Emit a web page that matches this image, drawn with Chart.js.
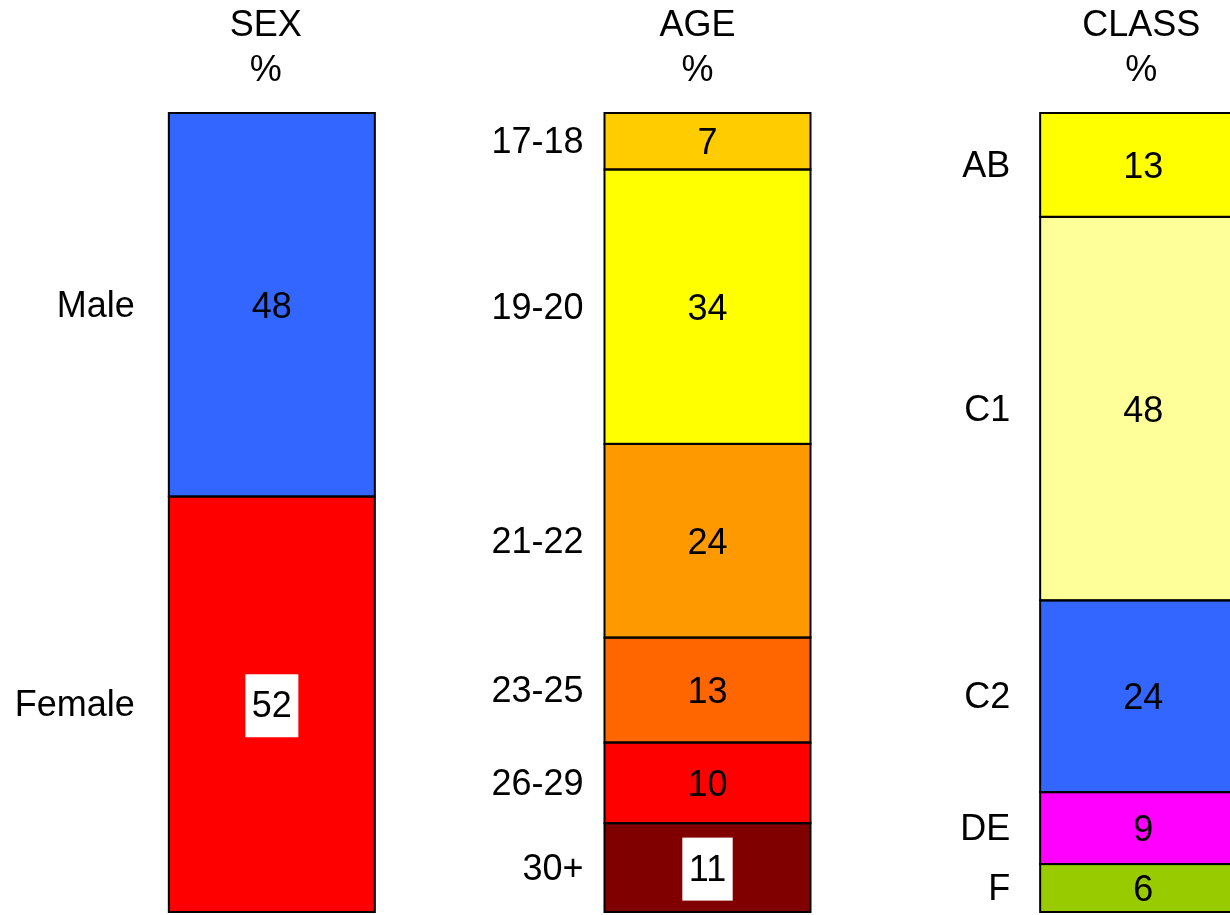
<!DOCTYPE html>
<html>
<head>
<meta charset="utf-8">
<script src="https://cdn.jsdelivr.net/npm/chart.js@4"></script>
<style>
  html, body { margin: 0; padding: 0; background: #fff; overflow: hidden; }
  #wrap { width: 1361px; height: 915px; }
</style>
</head>
<body>
<div id="wrap"><canvas id="profileChart"></canvas></div>
<script>
// Data (top to bottom in each bar)
const groupTitles = ['SEX', 'AGE', 'CLASS'];

const sexLabels = ['Male', 'Female'];
const sexValues = [48, 52];

const ageLabels = ['17-18', '19-20', '21-22', '23-25', '26-29', '30+'];
const ageValues = [7, 34, 24, 13, 10, 11];

const classLabels = ['AB', 'C1', 'C2', 'DE', 'F'];
const classValues = [13, 48, 24, 9, 6];

// Colours
const sexColors = ['#3366ff', '#ff0000'];
const ageColors = ['#ffcc00', '#ffff00', '#ff9900', '#ff6600', '#ff0000', '#800000'];
const classColors = ['#ffff00', '#ffff99', '#3366ff', '#ff00ff', '#99cc00'];

// labels that get a white box behind the number
const boxedLabels = ['Female', '30+'];
const labelGap = [34, 21, 30];
const titleShift = [-6, -10, -2];
const FONT = '36px "Liberation Sans", Arial, Helvetica, sans-serif';

const groups = [
    { labels: sexLabels, values: sexValues, colors: sexColors },
    { labels: ageLabels, values: ageValues, colors: ageColors },
    { labels: classLabels, values: classValues, colors: classColors }
];

// each bar is scaled to its own total so it fills the full height
const maxSegs = Math.max(...groups.map(g => g.values.length));
const datasets = [];
for (let k = 0; k < maxSegs; k++) {
    const data = [], bg = [], raw = [], names = [];
    groups.forEach(g => {
        const idx = g.values.length - 1 - k; // stack from the bottom
        const sum = g.values.reduce((a, b) => a + b, 0);
        if (idx >= 0) {
            data.push(g.values[idx] / sum * 100);
            bg.push(g.colors[idx]);
            raw.push(g.values[idx]);
            names.push(g.labels[idx]);
        } else {
            data.push(null); bg.push('transparent'); raw.push(null); names.push(null);
        }
    });
    datasets.push({
        data, backgroundColor: bg, rawValues: raw, segNames: names,
        borderWidth: 0, barThickness: 206, stack: 'all'
    });
}

const labelPlugin = {
    id: 'segmentLabels',
    afterDatasetsDraw(chart) {
        const ctx = chart.ctx;
        ctx.save();
        const xScale = chart.scales.x;

        // segment outlines (shared edges drawn once at 2px)
        ctx.strokeStyle = '#000';
        ctx.lineWidth = 2;
        chart.data.datasets.forEach((ds, di) => {
            chart.getDatasetMeta(di).data.forEach((bar, i) => {
                if (ds.rawValues[i] === null) return;
                const left = bar.x - bar.width / 2;
                ctx.strokeRect(left, Math.min(bar.y, bar.base), bar.width, Math.abs(bar.base - bar.y));
            });
        });

        ctx.font = FONT;
        ctx.textBaseline = 'middle';

        // titles
        ctx.fillStyle = '#000';
        ctx.textAlign = 'center';
        groupTitles.forEach((t, i) => {
            const cx = xScale.getPixelForValue(i) + titleShift[i];
            ctx.fillText(t, cx, 26);
            ctx.fillText('%', cx, 71);
        });

        chart.data.datasets.forEach((ds, di) => {
            const meta = chart.getDatasetMeta(di);
            meta.data.forEach((bar, i) => {
                if (ds.rawValues[i] === null) return;
                const midY = (bar.y + bar.base) / 2;
                const left = bar.x - bar.width / 2;
                // category label
                ctx.fillStyle = '#000';
                ctx.textAlign = 'right';
                ctx.fillText(ds.segNames[i], left - labelGap[i], midY + 2);
                // value
                const txt = String(ds.rawValues[i]);
                ctx.textAlign = 'center';
                if (boxedLabels.includes(ds.segNames[i])) {
                    const w = ctx.measureText(txt).width + 13;
                    ctx.fillStyle = '#fff';
                    ctx.fillRect(bar.x - w / 2, midY - 30, w, 63);
                }
                ctx.fillStyle = '#000';
                ctx.fillText(txt, bar.x, midY + 3);
            });
        });
        ctx.restore();
    }
};

new Chart(document.getElementById('profileChart'), {
    type: 'bar',
    data: { labels: groupTitles, datasets },
    options: {
        responsive: true,
        maintainAspectRatio: false,
        animation: false,
        layout: { padding: { left: 54, right: 0, top: 113, bottom: 3 } },
        scales: {
            x: { display: false, stacked: true },
            y: { display: false, stacked: true, min: 0, max: 100 }
        },
        plugins: { legend: { display: false }, tooltip: { enabled: false } }
    },
    plugins: [labelPlugin]
});
</script>
</body>
</html>
